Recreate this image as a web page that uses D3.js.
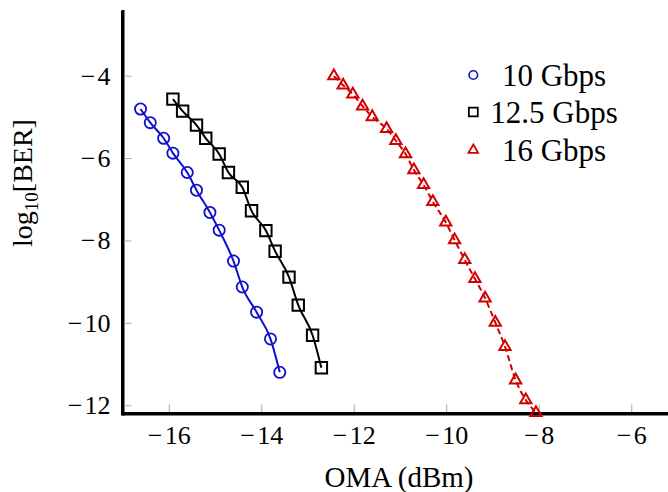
<!DOCTYPE html>
<html><head><meta charset="utf-8">
<script src="https://cdn.jsdelivr.net/npm/d3@7"></script>
<style>
body{margin:0;background:#fff}
svg{display:block}
svg text{font-family:"Liberation Serif","Times New Roman","DejaVu Serif",serif !important;fill:#000}
</style>
</head><body>
<svg id="chart" width="668" height="492"></svg>
<script>
// ---- data ----
const seriesNames = ["10 Gbps", "12.5 Gbps", "16 Gbps"];
const oma10  = [-16.61, -16.40, -16.11, -15.91, -15.60, -15.40, -15.11, -14.91, -14.60, -14.41, -14.10, -13.80, -13.60];
const ber10  = [-4.81, -5.14, -5.52, -5.88, -6.35, -6.78, -7.32, -7.75, -8.50, -9.13, -9.74, -10.39, -11.20];
const oma125 = [-15.91, -15.70, -15.40, -15.20, -14.91, -14.71, -14.41, -14.21, -13.90, -13.70, -13.40, -13.20, -12.89, -12.70];
const ber125 = [-4.57, -4.86, -5.20, -5.52, -5.90, -6.35, -6.71, -7.28, -7.76, -8.26, -8.89, -9.57, -10.30, -11.09];
const oma16  = [-12.43, -12.23, -12.02, -11.81, -11.60, -11.29, -11.09, -10.88, -10.70, -10.49, -10.29, -10.01, -9.82, -9.60, -9.38, -9.16, -8.94, -8.73, -8.50, -8.28, -8.06];
const ber16  = [-4.01, -4.23, -4.45, -4.74, -5.00, -5.29, -5.58, -5.90, -6.29, -6.65, -7.06, -7.56, -7.99, -8.47, -8.93, -9.40, -9.99, -10.58, -11.39, -11.87, -12.18];
const xTicks = [-16, -14, -12, -10, -8, -6];
const yTicks = [-12, -10, -8, -6, -4];
const xLabel = "OMA (dBm)";

// ---- setup ----
const FONT = '"Liberation Serif", "Times New Roman", "DejaVu Serif", serif';
const svg = d3.select("#chart");
const x = d3.scaleLinear().domain([-17, -5]).range([122.5, 677.5]);
const y = d3.scaleLinear().domain([-12.2, -2.43]).range([413.5, 11]);

const blue = "#1010cc", black = "#000000", red = "#d40000";
const series = [
  {name: seriesNames[0], xs: oma10, ys: ber10, color: blue, marker: "circle", dash: null},
  {name: seriesNames[1], xs: oma125, ys: ber125, color: black, marker: "square", dash: null},
  {name: seriesNames[2], xs: oma16, ys: ber16, color: red, marker: "triangle", dash: "6,3.5"}
];

const fmt = d => d < 0 ? "\u2212\u200A" + Math.abs(d) : String(d);

// axes
const gx = svg.append("g").attr("transform", `translate(0,${y.range()[0]})`)
  .call(d3.axisBottom(x).tickValues(xTicks).tickSize(-9).tickSizeOuter(0).tickPadding(12).tickFormat(fmt));
const gy = svg.append("g").attr("transform", `translate(${x.range()[0]},0)`)
  .call(d3.axisLeft(y).tickValues(yTicks).tickSize(-9).tickSizeOuter(0).tickPadding(12).tickFormat(fmt));
[gx, gy].forEach(g => {
  g.attr("font-family", null);
  g.selectAll(".tick line").attr("stroke", "#a8a8a8").attr("stroke-width", 1);
  g.selectAll(".tick text").attr("font-size", 26).style("font-family", FONT).attr("fill", "#000");
  g.select(".domain").attr("stroke", "#000").attr("stroke-width", 3).attr("stroke-linecap", "square");
});
// corner join
svg.append("path")
  .attr("d", `M${x.range()[0]},${y.range()[1]}V${y.range()[0]}H${x.range()[1]}`)
  .attr("fill", "none").attr("stroke", "#000").attr("stroke-width", 3);

// axis labels
svg.append("text").attr("x", 399).attr("y", 487).attr("text-anchor", "middle")
  .style("font-family", FONT).attr("font-size", 29).text(xLabel);
const yl = svg.append("text").attr("transform", "translate(32,183) rotate(-90)")
  .attr("text-anchor", "middle").style("font-family", FONT).attr("font-size", 28);
yl.append("tspan").text("log");
yl.append("tspan").attr("font-size", 19).attr("dy", 6).text("10");
yl.append("tspan").attr("dy", -6).text("[BER]");

// markers
function drawMarker(g, type, color, cx, cy, big) {
  if (type === "circle") {
    g.append("circle").attr("cx", cx).attr("cy", cy).attr("r", big ? 5.6 : 4.3)
      .attr("fill", "none").attr("stroke", color).attr("stroke-width", big ? 1.8 : 1.6);
  } else {
    const sym = type === "square" ? d3.symbolSquare : d3.symbolTriangle;
    const size = type === "square" ? (big ? 130 : 80) : (big ? 55 : 40);
    g.append("path").attr("d", d3.symbol(sym, size)())
      .attr("transform", `translate(${cx},${cy})`)
      .attr("fill", "none").attr("stroke", color).attr("stroke-width", big ? 2 : 1.8);
  }
}

const line = d3.line().x(d => x(d[0])).y(d => y(d[1])).curve(d3.curveMonotoneX);
series.forEach(s => {
  const pts = s.xs.map((v, i) => [v, s.ys[i]]);
  const g = svg.append("g");
  g.append("path").attr("d", line(pts)).attr("fill", "none")
    .attr("stroke", s.color).attr("stroke-width", 2)
    .attr("stroke-dasharray", s.dash);
  pts.forEach(p => drawMarker(g, s.marker, s.color, x(p[0]), y(p[1]), true));
});

// legend
const legY = [75, 112, 150];
series.forEach((s, i) => {
  const g = svg.append("g");
  drawMarker(g, s.marker, s.color, 473.3, legY[i], false);
  g.append("text").attr("x", 554).attr("y", legY[i] + 10.5).attr("text-anchor", "middle")
    .style("font-family", FONT).attr("font-size", 31).text(s.name);
});
</script>
</body></html>
